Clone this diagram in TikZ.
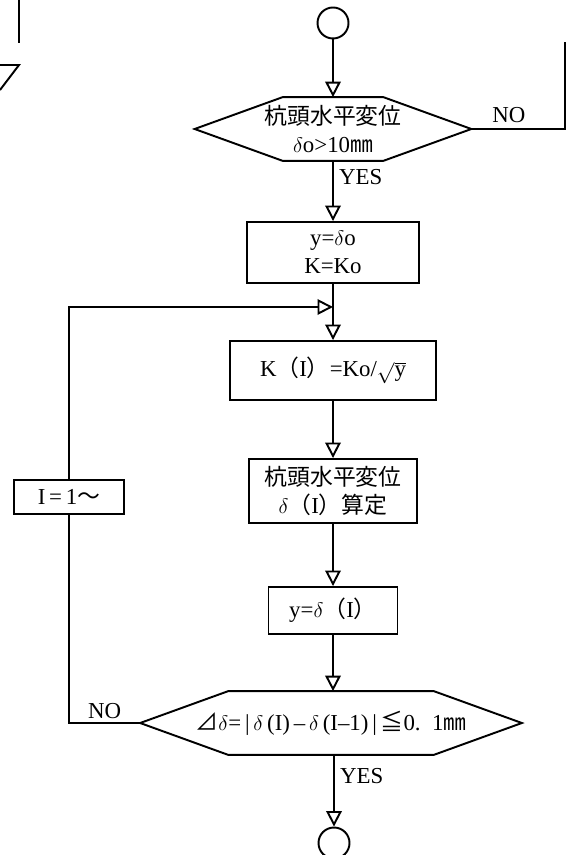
\documentclass[tikz,border=0pt]{standalone}
\usepackage{fontspec}
\setmainfont{Liberation Serif}
\newfontfamily\jp{Noto Sans CJK JP}
\usetikzlibrary{arrows.meta, positioning}
% outline of a decision: pointed at west and east
\newcommand{\hexframe}[2]{\draw[line width=1.1pt] (#1.west) -- ([xshift=#2]#1.north west) -- ([xshift=-#2]#1.north east) -- (#1.east) -- ([xshift=-#2]#1.south east) -- ([xshift=#2]#1.south west) -- cycle;}

\begin{document}
\begin{tikzpicture}[
    proc/.style={rectangle, draw, line width=1.1pt, align=center, font=\fontsize{13}{16}\selectfont, inner sep=2pt},
    decision/.style={rectangle, align=center, font=\fontsize{13}{16}\selectfont, minimum height=1.26cm, inner sep=0pt},
    terminal/.style={circle, draw, line width=1.1pt, minimum size=0.62cm, inner sep=0pt},
    flow/.style={line width=1.1pt, -{Triangle[open, length=3.1mm, width=3.1mm]}},
    lbl/.style={font=\fontsize{13}{15}\selectfont, inner sep=1pt}
]
\useasboundingbox (0,0) rectangle (11.34,-17.1);

% pieces of the neighbouring chart
\draw[line width=1.1pt] (0.38,0) -- (0.38,-0.86);
\draw[line width=1.1pt] (0,-1.3) -- (0.38,-1.3) -- (0,-1.8);

\node[terminal] (start) at (6.66,-0.46) {};
\node[decision, minimum width=5.52cm] (dec1) at (6.66,-2.58) {{\jp 杭頭水平変位}\\$\delta$o>10{\jp ㎜}};
\node[proc, minimum width=3.44cm, minimum height=1.22cm] (init) at (6.66,-5.05) {y=$\delta$o\\K=Ko};
\coordinate (join) at (6.66,-6.14);
\node[proc, minimum width=4.12cm, minimum height=1.18cm] (stiff) at (6.66,-7.41) {K{\jp （}I{\jp ）}=Ko/$\sqrt{\mbox{y}}$};
\node[proc, minimum width=3.36cm, minimum height=1.28cm] (disp) at (6.66,-9.82) {{\jp 杭頭水平変位}\\$\delta${\jp （}I{\jp ）算定}};
\node[proc, minimum width=2.58cm, minimum height=0.94cm] (upd) at (6.66,-12.21) {y=$\delta${\jp （}I{\jp ）}};
\node[decision, minimum width=7.62cm] (dec2) at (6.62,-14.46) {{\jp ⊿}$\delta$=\,|\,$\delta$\,(I)\,--\,$\delta$\,(I--1)\,|\,{\jp ≦}0.\ \ 1{\jp ㎜}};
\node[terminal] (stop) at (6.68,-16.86) {};
\node[proc, minimum width=2.2cm, minimum height=0.68cm] (count) at (1.38,-9.94) {I\,=\,1{\jp 〜}};
\coordinate (noexit) at (11.30,-0.84);

\hexframe{dec1}{1.76cm}
\hexframe{dec2}{1.76cm}

% main flow
\draw[flow] (start) -- (dec1.north -| start);
\draw[flow] (dec1.south -| init) -- node[lbl, right=2pt, pos=0.27] {YES} (init);
\draw[flow] (init) -- (stiff);
\draw[flow] (stiff) -- (disp);
\draw[flow] (disp) -- (upd);
\draw[flow] (upd) -- (dec2.north -| upd);
\draw[flow] (dec2.south -| stop) -- node[lbl, right=2pt, pos=0.3] {YES} (stop);

% NO branches
\draw[line width=1.1pt] (dec1.east) -- node[lbl, above=2pt, pos=0.4] {NO} (noexit |- dec1.east) -- (noexit);
\draw[line width=1.1pt] (dec2.west) -- node[lbl, above=1pt] {NO} (count.south |- dec2.west) -- (count.south);
\draw[flow] (count.north) |- (join);
\end{tikzpicture}
\end{document}
